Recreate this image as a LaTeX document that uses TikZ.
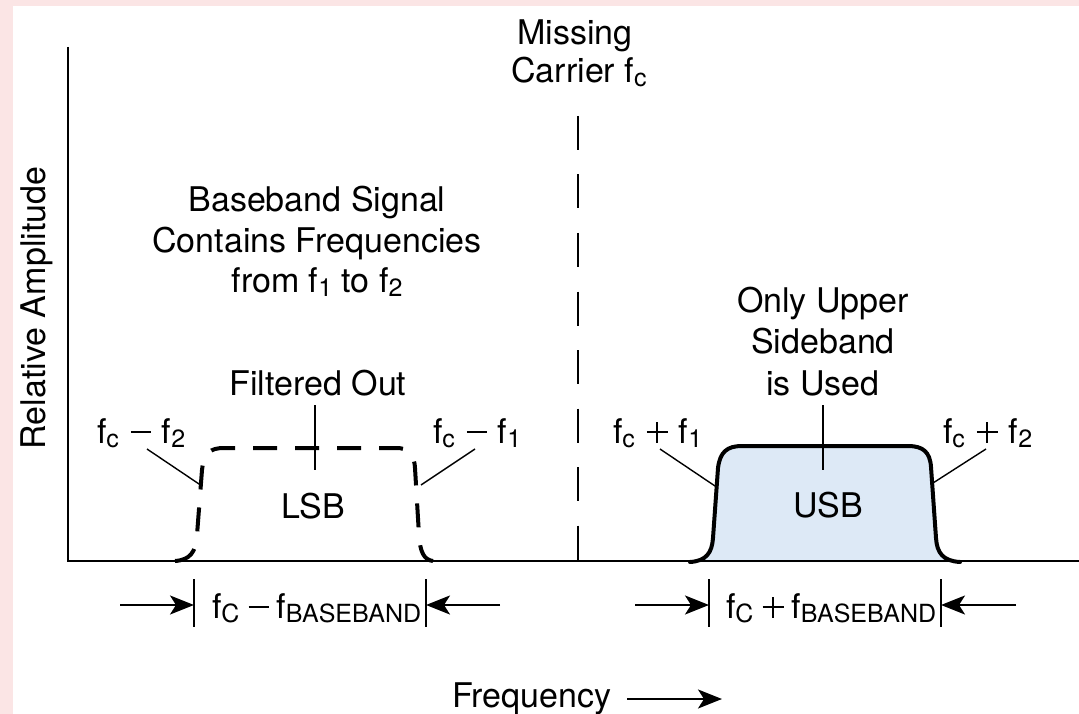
\documentclass[tikz,border=0pt]{standalone}
\usepackage{fontspec}
\setmainfont{TeX Gyre Heros}
\usetikzlibrary{arrows.meta}
\definecolor{usbfill}{RGB}{221,233,246}
\definecolor{bgpink}{RGB}{251,229,229}
\newcommand{\sbs}[1]{\raisebox{-4pt}{\fontsize{25}{25}\selectfont #1}}
\newcommand{\mminus}{\hspace{12pt}\rule[10pt]{20pt}{2pt}\hspace{11pt}}
\newcommand{\mplus}{\hspace{12pt}\rule[10pt]{21pt}{2pt}\hspace{-11.5pt}\rule[0.5pt]{2pt}{21pt}\hspace{9.5pt}\hspace{11pt}}
\newcommand{\bminus}{\hspace{9pt}\rule[10pt]{20pt}{2pt}\hspace{8pt}}
\newcommand{\bplus}{\hspace{9pt}\rule[10pt]{21pt}{2pt}\hspace{-11.5pt}\rule[0.5pt]{2pt}{21pt}\hspace{9.5pt}\hspace{8pt}}
\begin{document}
\begin{tikzpicture}[x=1pt,y=-1pt,
  lbl/.style={inner sep=0pt,outer sep=0pt,font=\fontsize{34}{40}\selectfont},
  axis/.style={line width=2pt},
  leader/.style={line width=1.4pt},
  band/.style={line width=4pt,line cap=round,line join=round},
  barline/.style={line width=1.8pt},
  dimarrow/.style={line width=1.8pt,-{Stealth[length=24pt,width=19pt,inset=6pt]}}]
\useasboundingbox (0,0) rectangle (1079,714);
\fill[bgpink] (0,0) rectangle (1079,714);
\fill[white] (13,6) rectangle (1079,714);

% USB fill
\fill[usbfill] (690,562) .. controls (706,561) and (712,553) .. (713,538) -- (718,468)
  .. controls (720,452) and (727,446) .. (742,446) -- (908,446)
  .. controls (923,446) and (930,452) .. (931,467) -- (936,538)
  .. controls (937,553) and (943,561) .. (960,562) -- cycle;

% axes
\coordinate (ytop) at (68,47);
\coordinate (origin) at (68,561);
\coordinate (xend) at (1079,561);
\draw[axis] (ytop) -- (origin) -- (xend);

% carrier
\coordinate (ctop) at (578,116);
\coordinate (cbot) at (578,561);
\draw[line width=2pt,dash pattern=on 34pt off 24.5pt] (ctop) -- (cbot);

% LSB dashed
\draw[band,line cap=butt,dash pattern=on 24pt off 18pt] (175,561) .. controls (190,560) and (196,552) .. (197,535) -- (202,470)
  .. controls (204,453) and (210,448) .. (224,448) -- (396,448)
  .. controls (408,448) and (414,453) .. (415,468) -- (419,535)
  .. controls (420,552) and (424,560) .. (433,561);

% USB outline
\draw[band] (690,562) .. controls (706,561) and (712,553) .. (713,538) -- (718,468)
  .. controls (720,452) and (727,446) .. (742,446) -- (908,446)
  .. controls (923,446) and (930,452) .. (931,467) -- (936,538)
  .. controls (937,553) and (943,561) .. (960,562);

% texts
\node[lbl,anchor=base] (miss) at (575,45) {Missing};
\node[lbl,anchor=base] (carr) at (579,83) {Carrier f\sbs{c}};
\node[lbl,anchor=base] (bb1) at (317,212) {Baseband Signal};
\node[lbl,anchor=base] (bb2) at (317,252) {Contains Frequencies};
\node[lbl,anchor=base] (bb3) at (317,292) {from f\sbs{1} to f\sbs{2}};
\node[lbl,anchor=base] (ou1) at (823,312) {Only Upper};
\node[lbl,anchor=base] (ou2) at (823,353) {Sideband};
\node[lbl,anchor=base] (ou3) at (823,395) {is Used};
\node[lbl,anchor=base] (filt) at (318,395) {Filtered Out};
\node[lbl,anchor=base west] (lm2) at (97,443) {f\sbs{c}\mminus f\sbs{2}};
\node[lbl,anchor=base west] (lm1) at (433,443) {f\sbs{c}\mminus f\sbs{1}};
\node[lbl,anchor=base west] (up1) at (613,443) {f\sbs{c}\mplus f\sbs{1}};
\node[lbl,anchor=base west] (up2) at (943,443) {f\sbs{c}\mplus f\sbs{2}};
\node[lbl,anchor=base] (lsb) at (313,518) {LSB};
\node[lbl,anchor=base] (usb) at (828,517) {USB};
\node[lbl,anchor=base west] (lbw) at (212,618) {f\sbs{C}\bminus f\sbs{BASEBAND}};
\node[lbl,anchor=base west] (ubw) at (726,618) {f\sbs{C}\bplus f\sbs{BASEBAND}};
\node[lbl,anchor=base west] (freq) at (452,707) {Frequency};
\node[lbl,anchor=base,rotate=90] (relamp) at (45,308) {Relative Amplitude};

% leaders
\coordinate (lm2a) at (147,449); \coordinate (lm2b) at (202,486);
\coordinate (lm1a) at (475,449); \coordinate (lm1b) at (421,485);
\coordinate (up1a) at (660,449); \coordinate (up1b) at (715,486);
\coordinate (up2a) at (986,449); \coordinate (up2b) at (933,483);
\coordinate (ft) at (315,405); \coordinate (fb) at (315,470);
\coordinate (ut) at (823,405); \coordinate (ub) at (823,470);
\draw[leader] (lm2a) -- (lm2b);
\draw[leader] (lm1a) -- (lm1b);
\draw[leader] (up1a) -- (up1b);
\draw[leader] (up2a) -- (up2b);
\draw[leader] (ft) -- (fb);
\draw[leader] (ut) -- (ub);

% bottom dimension marks
\coordinate (b1t) at (194,579); \coordinate (b1b) at (194,627);
\coordinate (b2t) at (426,579); \coordinate (b2b) at (426,627);
\coordinate (b3t) at (709,579); \coordinate (b3b) at (709,627);
\coordinate (b4t) at (941,579); \coordinate (b4b) at (941,627);
\draw[barline] (b1t) -- (b1b);
\draw[barline] (b2t) -- (b2b);
\draw[barline] (b3t) -- (b3b);
\draw[barline] (b4t) -- (b4b);
\coordinate (a1s) at (120,605); \coordinate (a1e) at (194,605);
\coordinate (a2s) at (500,605); \coordinate (a2e) at (426,605);
\coordinate (a3s) at (635,605); \coordinate (a3e) at (709,605);
\coordinate (a4s) at (1016,605); \coordinate (a4e) at (941,605);
\draw[dimarrow] (a1s) -- (a1e);
\draw[dimarrow] (a2s) -- (a2e);
\draw[dimarrow] (a3s) -- (a3e);
\draw[dimarrow] (a4s) -- (a4e);

% frequency arrow
\coordinate (fa2) at (722,699);
\draw[dimarrow] ([xshift=16pt]freq.east |- fa2) -- (fa2);
\end{tikzpicture}
\end{document}
